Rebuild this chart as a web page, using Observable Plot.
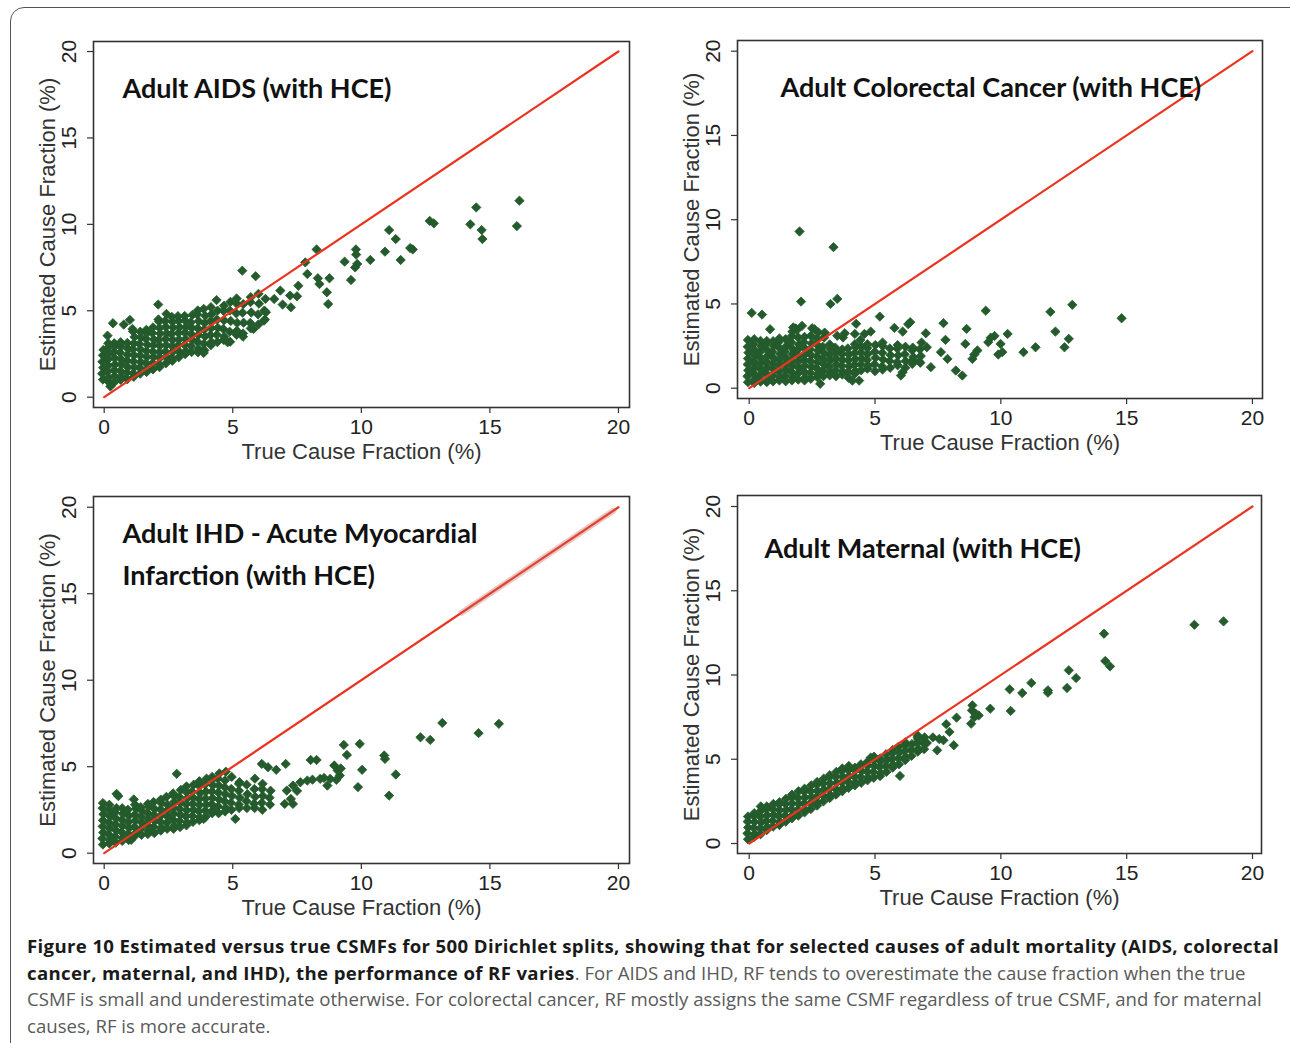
<!DOCTYPE html>
<html><head><meta charset="utf-8">
<script src="https://cdn.jsdelivr.net/npm/d3@7"></script>
<script src="https://cdn.jsdelivr.net/npm/@observablehq/plot@0.6"></script>
<style>
body{margin:0;background:#fff;width:1290px;height:1043px;overflow:hidden;position:relative;}
#border{position:absolute;left:10px;top:7px;width:1300px;height:1100px;border:1px solid #555;border-radius:14px;box-sizing:border-box;}
.panel{position:absolute;}
.panel svg{background:transparent;overflow:visible;}
#caption{position:absolute;left:27px;top:933px;font-family:"Open Sans",sans-serif;font-size:18.6px;line-height:26.5px;color:#5a5a5a;white-space:nowrap;}
#caption b{color:#1a1a1a;font-weight:700;letter-spacing:0.36px;}
</style></head><body>
<div id="border"></div>
<div id="p1" class="panel" style="left:0;top:0"></div>
<div id="p2" class="panel" style="left:640px;top:0"></div>
<div id="p3" class="panel" style="left:0;top:470px"></div>
<div id="p4" class="panel" style="left:640px;top:470px"></div>
<div id="caption"></div>
<script>
const xTicks = [0, 5, 10, 15, 20];
const yTicks = [0, 5, 10, 15, 20];
const diagonal = [0, 20];
const ihdBlurSegment = [13.9, 19.8];
const xLabel = "True Cause Fraction (%)";
const yLabel = "Estimated Cause Fraction (%)";
const titles = ["Adult AIDS (with HCE)", "Adult Colorectal Cancer (with HCE)", "Adult IHD - Acute Myocardial\nInfarction (with HCE)", "Adult Maternal (with HCE)"];

const aidsPoints = [
[-0.05,1.02],[-0.08,1.36],[-0.04,1.71],[-0.07,2.05],[-0.05,2.42],[-0.03,2.74],
[0.15,0.92],[0.17,1.14],[0.13,1.48],[0.16,1.83],[0.14,2.18],[0.18,2.53],[0.15,2.86],[0.16,3.12],
[0.38,0.84],[0.41,1.22],[0.39,1.56],[0.42,1.9],[0.4,2.27],[0.37,2.6],[0.41,2.93],[0.39,3.12],
[0.64,1.01],[0.66,1.19],[0.63,1.53],[0.67,1.89],[0.65,2.21],[0.62,2.58],[0.66,2.93],[0.64,3.18],
[0.9,1.04],[0.88,1.42],[0.92,1.74],[0.89,2.11],[0.91,2.46],[0.93,2.79],[0.9,3.14],
[1.15,1.18],[1.13,1.38],[1.17,1.73],[1.14,2.07],[1.16,2.43],[1.12,2.78],[1.15,3.11],[1.18,3.48],[1.12,3.81],[1.1,3.95],
[1.4,1.36],[1.38,1.71],[1.42,2.04],[1.39,2.41],[1.41,2.76],[1.37,3.09],[1.43,3.46],[1.4,3.79],
[1.65,1.46],[1.67,1.63],[1.63,1.97],[1.66,2.33],[1.64,2.67],[1.68,3.03],[1.62,3.38],[1.66,3.71],[1.64,3.9],
[1.9,1.61],[1.88,1.96],[1.92,2.31],[1.89,2.64],[1.91,3.01],[1.93,3.34],[1.87,3.71],[1.9,4.04],
[2.15,1.74],[2.13,1.91],[2.17,2.28],[2.14,2.61],[2.16,2.98],[2.12,3.31],[2.18,3.68],[2.15,4.01],[2.13,4.38],[2.11,4.5],
[2.4,1.96],[2.42,2.31],[2.38,2.64],[2.41,3.01],[2.39,3.36],[2.43,3.69],[2.4,4.06],[2.37,4.41],
[2.65,2.11],[2.63,2.28],[2.67,2.63],[2.64,2.96],[2.66,3.33],[2.62,3.66],[2.68,4.03],[2.65,4.36],[2.63,4.65],
[2.9,2.31],[2.92,2.64],[2.88,3.01],[2.91,3.34],[2.89,3.71],[2.93,4.04],[2.9,4.41],[2.87,4.69],
[3.15,2.49],[3.17,2.66],[3.13,3.03],[3.16,3.36],[3.14,3.73],[3.18,4.06],[3.15,4.43],[3.13,4.7],
[3.4,2.61],[3.38,2.96],[3.42,3.31],[3.39,3.64],[3.41,4.01],[3.37,4.34],[3.43,4.76],
[3.65,2.59],[3.67,2.8],[3.63,3.21],[3.66,3.6],[3.64,3.99],[3.68,4.4],[3.62,4.79],[3.64,5.02],
[3.9,2.71],[3.88,3.09],[3.92,3.51],[3.89,3.91],[3.91,4.29],[3.93,4.71],[3.87,5.11],
[4.15,3.01],[4.17,3.2],[4.13,3.6],[4.16,4.0],[4.14,4.4],[4.18,4.8],[4.15,5.21],
[4.4,3.19],[4.38,3.61],[4.42,4.01],[4.39,4.49],[4.41,5.01],[4.37,5.62],
[4.65,3.31],[4.67,3.5],[4.63,3.95],[4.66,4.45],[4.64,5.0],[4.66,5.29],
[4.9,3.21],[4.88,3.79],[4.92,4.41],[4.89,5.01],[4.91,5.52],
[5.15,3.61],[5.13,3.8],[5.17,4.3],[5.14,4.85],[5.16,5.4],[5.15,5.71],
[5.4,3.69],[5.42,4.31],[5.38,4.89],[5.41,5.39],
[5.7,3.98],[5.68,4.3],[5.72,4.9],[5.69,5.5],[5.7,5.79],
[6.0,4.21],[5.98,4.79],[6.02,5.41],[6.0,5.98],
[6.25,4.49],[6.23,5.01],[6.27,5.69],
[16.15,11.37],[16.05,9.9],[14.47,10.98],[14.24,10.0],[14.68,9.67],[14.71,9.15],[12.66,10.2],[12.82,10.06],
[11.9,8.63],[12.0,8.55],[11.08,9.67],[11.34,9.15],[11.53,7.94],[10.92,8.42],[10.35,7.94],[9.79,8.55],
[9.8,8.25],[9.84,7.71],[9.76,7.51],[9.35,7.84],[9.6,6.78],[8.26,8.55],[7.9,7.13],[7.82,7.8],[8.31,6.88],
[8.37,6.55],[8.76,6.88],[8.66,6.07],[8.71,5.39],[7.55,6.45],[7.5,5.84],[7.23,5.88],[7.26,5.2],[5.37,7.32],
[5.89,7.0],[6.85,6.17],[6.61,5.68],[6.94,5.36],[6.29,4.91],[6.21,4.43],[5.81,3.95],[5.4,3.5],[5.19,3.8],
[4.8,3.18],[3.87,2.56],[0.34,4.28],[0.13,3.56],[1.0,4.47],[0.76,4.2],[2.1,5.36],[2.42,4.82],[0.24,0.62]
];

const colorectalPoints = [
[-0.05,0.36],[-0.07,0.71],[-0.04,1.06],[-0.06,1.41],[-0.05,1.76],[-0.03,2.11],[-0.06,2.46],[-0.05,2.86],
[0.2,0.31],[0.22,0.53],[0.18,0.88],[0.21,1.23],[0.19,1.58],[0.23,1.93],[0.2,2.28],[0.17,2.63],[0.2,2.91],
[0.45,0.39],[0.43,0.74],[0.47,1.09],[0.44,1.44],[0.46,1.79],[0.42,2.14],[0.48,2.49],[0.45,2.81],
[0.7,0.36],[0.72,0.53],[0.68,0.88],[0.71,1.23],[0.69,1.58],[0.73,1.93],[0.7,2.28],[0.67,2.63],[0.7,2.8],
[0.95,0.41],[0.93,0.76],[0.97,1.11],[0.94,1.46],[0.96,1.81],[0.92,2.16],[0.98,2.51],[0.95,2.79],
[1.2,0.46],[1.22,0.63],[1.18,0.98],[1.21,1.33],[1.19,1.68],[1.23,2.03],[1.2,2.38],[1.17,2.73],[1.2,2.95],
[1.45,0.41],[1.43,0.76],[1.47,1.11],[1.44,1.46],[1.46,1.81],[1.42,2.16],[1.48,2.51],[1.45,2.91],
[1.7,0.46],[1.72,0.63],[1.68,0.98],[1.71,1.33],[1.69,1.68],[1.73,2.03],[1.7,2.38],[1.67,2.73],[1.7,3.1],[1.72,3.36],[1.75,3.61],
[1.95,0.51],[1.93,0.86],[1.97,1.21],[1.94,1.56],[1.96,1.91],[1.92,2.26],[1.98,2.61],[1.95,3.01],[1.9,3.46],
[2.2,0.46],[2.22,0.63],[2.18,0.98],[2.21,1.33],[2.19,1.68],[2.23,2.03],[2.2,2.38],[2.17,2.73],[2.2,3.05],
[2.45,0.56],[2.43,0.91],[2.47,1.26],[2.44,1.61],[2.46,1.96],[2.42,2.31],[2.48,2.66],[2.45,3.11],[2.5,3.56],
[2.7,0.66],[2.72,0.83],[2.68,1.18],[2.71,1.53],[2.69,1.88],[2.73,2.23],[2.7,2.58],[2.68,2.95],[2.75,3.31],
[2.95,0.71],[2.93,1.06],[2.97,1.41],[2.94,1.76],[2.96,2.11],[2.92,2.46],[2.98,3.01],
[3.2,0.76],[3.22,0.93],[3.18,1.28],[3.21,1.63],[3.19,1.98],[3.23,2.33],[3.2,2.6],
[3.45,0.71],[3.43,1.06],[3.47,1.41],[3.44,1.76],[3.46,2.11],[3.42,2.41],[3.5,3.11],
[3.7,0.81],[3.72,0.98],[3.68,1.33],[3.71,1.68],[3.69,2.03],[3.7,2.3],[3.73,3.01],
[3.95,0.61],[3.93,0.96],[3.97,1.31],[3.94,1.66],[3.96,2.01],[3.92,2.36],
[4.2,0.86],[4.22,1.03],[4.18,1.38],[4.21,1.73],[4.19,2.08],[4.23,2.43],[4.2,2.61],
[4.45,1.06],[4.43,1.41],[4.47,1.76],[4.44,2.11],[4.46,2.46],[4.42,2.86],
[4.7,1.16],[4.72,1.33],[4.68,1.68],[4.71,2.03],[4.69,2.38],[4.7,2.61],
[5.0,1.01],[4.98,1.41],[5.02,1.81],[4.99,2.16],[5.01,2.56],
[5.3,1.11],[5.28,1.3],[5.32,1.7],[5.29,2.1],[5.31,2.5],[5.3,2.71],
[5.6,1.21],[5.58,1.61],[5.62,1.96],[5.59,2.36],
[5.9,1.36],[5.88,1.55],[5.92,1.95],[5.89,2.35],[5.9,2.56],
[6.2,1.21],[6.22,1.61],[6.18,2.01],[6.21,2.46],
[6.5,1.66],[6.52,1.85],[6.48,2.25],[6.5,2.41],
[6.8,1.51],[6.82,1.91],[6.78,2.31],[6.85,2.71],
[2.0,9.3],[3.35,8.37],[2.06,5.14],[3.23,5.0],[3.5,5.3],[0.1,4.47],[0.51,4.37],[5.19,4.25],[9.4,4.6],
[11.97,4.53],[12.84,4.95],[14.8,4.15],[12.17,3.36],[12.7,2.93],[12.53,2.43],[11.38,2.43],[10.9,2.14],
[10.27,3.22],[9.99,2.63],[10.06,2.14],[9.9,2.0],[9.6,3.0],[9.5,2.73],[9.75,3.1],[8.64,3.52],[8.59,2.63],
[9.07,2.24],[8.87,1.74],[8.95,2.0],[7.72,3.86],[7.8,2.87],[7.62,2.14],[7.88,1.74],[8.21,1.05],[8.47,0.75],
[7.02,3.26],[6.4,3.92],[6.32,3.8],[5.77,3.58],[6.1,3.36],[7.06,2.43],[7.22,1.25],[6.76,1.58],[6.48,1.44],
[6.1,0.95],[6.03,0.75],[4.25,3.82],[4.2,3.22],[3.8,3.26],[4.83,3.36],[4.58,3.22],[2.82,0.26],[4.37,0.45],
[4.1,0.45],[0.83,3.5],[1.85,3.55],[2.1,3.7],[2.6,3.5],[3.0,3.3]
];

const ihdPoints = [
[-0.05,0.5],[-0.07,0.85],[-0.04,1.2],[-0.06,1.55],[-0.05,1.9],[-0.03,2.25],[-0.06,2.6],[-0.05,2.9],
[0.2,0.56],[0.22,0.73],[0.18,1.08],[0.21,1.43],[0.19,1.78],[0.23,2.13],[0.2,2.48],[0.2,2.8],
[0.45,0.61],[0.43,0.96],[0.47,1.31],[0.44,1.66],[0.46,2.01],[0.42,2.36],[0.48,2.61],
[0.7,0.71],[0.72,0.88],[0.68,1.23],[0.71,1.58],[0.69,1.93],[0.73,2.28],[0.7,2.6],
[0.95,0.76],[0.93,1.11],[0.97,1.46],[0.94,1.81],[0.96,2.16],[0.92,2.51],
[1.2,1.01],[1.22,1.18],[1.18,1.53],[1.21,1.88],[1.19,2.23],[1.23,2.58],[1.2,2.8],[1.15,3.11],[1.05,0.77],
[1.45,1.06],[1.43,1.41],[1.47,1.76],[1.44,2.11],[1.46,2.46],[1.42,2.66],
[1.7,1.11],[1.72,1.28],[1.68,1.63],[1.71,1.98],[1.69,2.33],[1.73,2.68],[1.7,2.85],
[1.95,1.16],[1.93,1.51],[1.97,1.86],[1.94,2.21],[1.96,2.56],[1.92,2.96],
[2.2,1.31],[2.22,1.48],[2.18,1.83],[2.21,2.18],[2.19,2.53],[2.23,2.88],[2.2,3.1],
[2.45,1.41],[2.43,1.76],[2.47,2.11],[2.44,2.46],[2.46,2.81],[2.42,3.26],
[2.7,1.41],[2.72,1.58],[2.68,1.93],[2.71,2.28],[2.69,2.63],[2.73,2.98],[2.7,3.33],[2.68,3.46],
[2.95,1.51],[2.93,1.86],[2.97,2.21],[2.94,2.56],[2.96,2.91],[2.92,3.26],[2.98,3.66],
[3.2,1.61],[3.22,1.78],[3.18,2.13],[3.21,2.48],[3.19,2.83],[3.23,3.18],[3.2,3.53],[3.2,3.86],
[3.45,1.81],[3.43,2.16],[3.47,2.51],[3.44,2.86],[3.46,3.21],[3.42,3.56],[3.48,3.96],
[3.7,1.91],[3.72,2.08],[3.68,2.43],[3.71,2.78],[3.69,3.13],[3.73,3.48],[3.7,3.88],[3.7,4.16],
[3.95,2.11],[3.93,2.46],[3.97,2.81],[3.94,3.16],[3.96,3.56],[3.92,3.96],[3.98,4.31],
[4.2,2.31],[4.22,2.48],[4.18,2.83],[4.21,3.18],[4.19,3.56],[4.23,3.93],[4.2,4.26],[4.2,4.41],
[4.45,2.31],[4.43,2.71],[4.47,3.11],[4.44,3.51],[4.46,3.91],[4.42,4.31],[4.48,4.61],
[4.7,2.41],[4.72,2.61],[4.68,3.01],[4.71,3.41],[4.69,3.81],[4.7,4.21],[4.73,4.71],
[4.95,2.51],[4.93,2.91],[4.97,3.31],[4.94,3.71],[4.96,4.41],
[5.25,2.61],[5.23,2.81],[5.27,3.21],[5.24,3.61],[5.26,4.11],
[5.55,2.61],[5.53,3.01],[5.57,3.41],[5.54,3.96],
[5.85,2.61],[5.83,2.86],[5.87,3.26],[5.84,3.71],[5.86,4.31],
[6.15,2.51],[6.13,2.91],[6.17,3.31],[6.14,3.71],[6.16,4.01],
[6.45,2.81],[6.43,3.21],[6.47,3.61],
[13.15,7.53],[15.35,7.48],[14.56,6.94],[12.3,6.7],[12.68,6.55],[10.89,5.65],[10.92,5.45],[11.34,4.55],
[11.08,3.33],[10.03,4.82],[9.94,6.32],[9.32,6.26],[9.44,5.68],[9.87,3.82],[8.95,5.07],[9.08,4.78],
[9.16,4.49],[9.03,4.24],[8.68,3.91],[8.79,4.3],[8.03,5.39],[8.26,5.39],[7.9,4.2],[7.63,4.1],[7.34,3.91],
[7.1,3.62],[7.26,3.14],[7.02,2.85],[7.34,2.85],[7.06,5.16],[6.69,4.82],[6.37,4.97],[6.13,5.16],[5.24,4.01],
[5.1,1.98],[2.82,4.59],[3.87,1.98],[0.48,3.43],[0.55,3.3],[8.1,4.25],[8.4,4.3],[8.55,4.35],[9.2,4.9],[7.5,3.6]
];

const maternalPoints = [
[-0.05,0.25],[-0.07,0.6],[-0.04,0.95],[-0.06,1.3],[-0.05,1.6],
[0.2,0.4],[0.22,0.58],[0.18,0.93],[0.21,1.28],[0.19,1.63],[0.2,1.8],
[0.45,0.55],[0.43,0.9],[0.47,1.25],[0.44,1.6],[0.46,1.95],[0.46,2.2],
[0.7,0.8],[0.72,0.98],[0.68,1.33],[0.71,1.68],[0.69,2.03],[0.7,2.2],
[0.95,1.0],[0.93,1.35],[0.97,1.7],[0.94,2.05],[0.96,2.35],
[1.2,1.1],[1.22,1.28],[1.18,1.63],[1.21,1.98],[1.19,2.33],[1.2,2.45],
[1.45,1.3],[1.43,1.65],[1.47,2.0],[1.44,2.35],[1.46,2.65],
[1.7,1.5],[1.72,1.68],[1.68,2.03],[1.71,2.38],[1.69,2.73],[1.7,2.9],
[1.95,1.65],[1.93,2.0],[1.97,2.35],[1.94,2.7],[1.96,3.1],
[2.2,1.85],[2.22,2.03],[2.18,2.38],[2.21,2.73],[2.19,3.08],[2.2,3.25],
[2.45,2.05],[2.43,2.4],[2.47,2.75],[2.44,3.1],[2.46,3.45],
[2.7,2.25],[2.72,2.43],[2.68,2.78],[2.71,3.13],[2.69,3.48],[2.7,3.65],
[2.95,2.5],[2.93,2.85],[2.97,3.2],[2.94,3.55],[2.96,3.85],
[3.2,2.7],[3.22,2.88],[3.18,3.23],[3.21,3.58],[3.19,3.93],[3.2,4.05],
[3.45,2.9],[3.43,3.25],[3.47,3.6],[3.44,3.95],[3.46,4.25],
[3.7,3.1],[3.72,3.28],[3.68,3.63],[3.71,3.98],[3.69,4.33],[3.7,4.45],
[3.95,3.3],[3.93,3.65],[3.97,4.0],[3.94,4.35],[3.96,4.6],
[4.2,3.45],[4.22,3.63],[4.18,3.98],[4.21,4.33],[4.2,4.5],
[4.45,3.6],[4.43,3.95],[4.47,4.3],[4.44,4.7],
[4.7,3.75],[4.72,3.93],[4.68,4.28],[4.71,4.63],[4.7,4.85],
[4.95,3.9],[4.93,4.25],[4.97,4.6],[4.94,4.95],[4.96,5.15],
[5.2,4.0],[5.22,4.18],[5.18,4.53],[5.21,4.88],[5.2,5.05],
[5.45,4.25],[5.43,4.6],[5.47,4.95],[5.44,5.3],
[5.7,4.5],[5.72,4.68],[5.68,5.03],[5.71,5.38],[5.7,5.55],
[5.95,4.7],[5.93,5.05],[5.97,5.4],[5.94,5.75],
[6.2,4.95],[6.22,5.13],[6.18,5.48],[6.21,5.83],[6.2,6.0],
[6.45,5.2],[6.43,5.55],[6.47,5.9],
[6.7,5.45],[6.72,5.63],[6.68,5.98],[6.71,6.2],[6.7,6.4],
[6.95,5.6],[6.93,5.95],[6.97,6.3],
[18.85,13.18],[17.69,12.98],[14.1,12.45],[14.15,10.83],[14.34,10.51],[12.7,10.28],[12.99,9.82],[12.63,9.23],
[11.87,9.09],[11.87,8.95],[11.21,9.53],[10.85,8.93],[10.35,9.15],[10.39,7.87],[9.58,8.0],[8.87,8.2],
[9.12,7.6],[8.95,7.5],[8.82,7.11],[8.24,7.47],[7.83,7.08],[7.96,6.62],[7.72,6.13],[7.47,5.53],[8.13,5.83],
[6.69,6.32],[7.06,5.97],[5.99,4.01],[4.83,5.1],[7.3,6.3],[7.55,6.2],[8.85,7.9],[9.0,7.7]
];

const panels = [
  {el: "p1", points: aidsPoints, title: titles[0], width: 640, height: 470, ml: 93, mr: 11, mt: 41, mb: 63,
   xd: [-0.416, 20.43], yd: [-0.596, 20.58], tdx: 29, tdy: 27, blur: null},
  {el: "p2", points: colorectalPoints, title: titles[1], width: 650, height: 470, ml: 97, mr: 28, mt: 40, mb: 72,
   xd: [-0.465, 20.40], yd: [-0.611, 20.635], tdx: 43, tdy: 27, blur: null},
  {el: "p3", points: ihdPoints, title: titles[2], width: 640, height: 460, ml: 93, mr: 11, mt: 26, mb: 67,
   xd: [-0.416, 20.43], yd: [-0.595, 20.62], tdx: 29, tdy: 17, blur: ihdBlurSegment},
  {el: "p4", points: maternalPoints, title: titles[3], width: 650, height: 460, ml: 97, mr: 29, mt: 25, mb: 77,
   xd: [-0.465, 20.358], yd: [-0.593, 20.653], tdx: 27, tdy: 33, blur: null}
];

const axisFont = "'Liberation Sans', Arial, sans-serif";

for (const p of panels) {
  const chart = Plot.plot({
    width: p.width, height: p.height,
    marginLeft: p.ml, marginRight: p.mr, marginTop: p.mt, marginBottom: p.mb,
    x: {domain: p.xd},
    y: {domain: p.yd},
    style: {fontFamily: axisFont, color: "#222", background: "transparent", overflow: "visible"},
    marks: [
      Plot.dot(p.points, {x: d => d[0], y: d => d[1], symbol: "diamond2", r: 4.2, fill: "#245b2c", stroke: "#245b2c", strokeWidth: 0.8}),
      Plot.line(diagonal, {x: d => d, y: d => d, stroke: "#ea3420", strokeWidth: 2.2}),
      p.blur ? Plot.line(p.blur, {x: d => d, y: d => d, stroke: "#c9625a", strokeWidth: 6, strokeOpacity: 0.35}) : null,
      Plot.frame({stroke: "#333", strokeWidth: 1.6}),
      Plot.axisX({ticks: xTicks, tickSize: 6, tickPadding: 6, fontSize: 21, label: null, stroke: "#333", strokeWidth: 1.2}),
      Plot.axisY({ticks: yTicks, tickSize: 6, tickFormat: () => "", label: null, stroke: "#333", strokeWidth: 1.2}),
      Plot.text(yTicks, {y: d => d, text: d => String(d), frameAnchor: "left", dx: -24, rotate: -90,
        textAnchor: "middle", lineAnchor: "middle", fontSize: 21, fill: "#222"}),
      Plot.text([xLabel], {text: d => d, frameAnchor: "bottom", dy: 44, lineAnchor: "middle", fontSize: 22, fill: "#333"}),
      Plot.text([yLabel], {text: d => d, frameAnchor: "left", dx: -46, rotate: -90,
        textAnchor: "middle", lineAnchor: "middle", fontSize: 22, fill: "#333"}),
      Plot.text([p.title], {text: d => d, frameAnchor: "top-left", dx: p.tdx, dy: p.tdy, textAnchor: "start", lineAnchor: "top",
        fontSize: 27, fontWeight: 700, fontFamily: "Lato, sans-serif", fill: "#111", lineHeight: 1.545})
    ]
  });
  document.getElementById(p.el).appendChild(chart);
}

document.getElementById("caption").innerHTML =
  "<b>Figure 10 Estimated versus true CSMFs for 500 Dirichlet splits, showing that for selected causes of adult mortality (AIDS, colorectal</b><br>" +
  "<b>cancer, maternal, and IHD), the performance of RF varies</b>. For AIDS and IHD, RF tends to overestimate the cause fraction when the true<br>" +
  "CSMF is small and underestimate otherwise. For colorectal cancer, RF mostly assigns the same CSMF regardless of true CSMF, and for maternal<br>" +
  "causes, RF is more accurate.";
</script>
</body></html>
